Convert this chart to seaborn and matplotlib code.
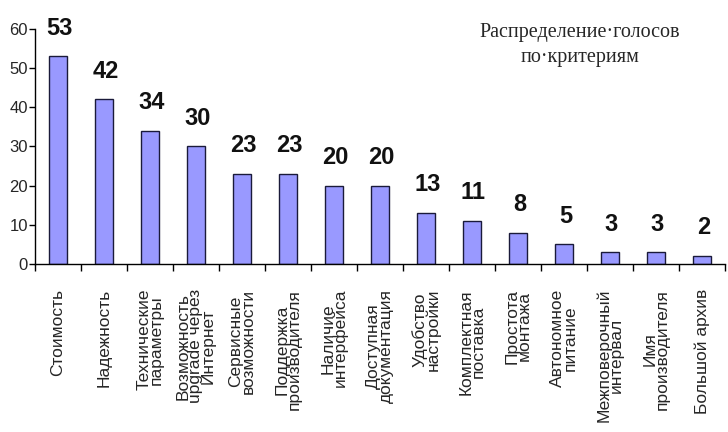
import pandas as pd
import matplotlib.pyplot as plt
import seaborn as sns
from matplotlib.ticker import FixedLocator, NullFormatter

# Data
criteria = [
    "Стоимость", "Надежность", "Технические\nпараметры",
    "Возможность\nupgrade через\nИнтернет", "Сервисные\nвозможности",
    "Поддержка\nпроизводителя", "Наличие\nинтерфейса",
    "Доступная\nдокументация", "Удобство\nнастройки",
    "Комплектная\nпоставка", "Простота\nмонтажа", "Автономное\nпитание",
    "Межповерочный\nинтервал", "Имя\nпроизводителя", "Большой архив",
]
votes = [53, 42, 34, 30, 23, 23, 20, 20, 13, 11, 8, 5, 3, 3, 2]
title_text = "Распределение·голосов\nпо·критериям"

df = pd.DataFrame({"criterion": criteria, "votes": votes})

sns.set_style("white")
plt.rcParams['font.family'] = ['Liberation Sans Narrow', 'Liberation Sans', 'DejaVu Sans']

fig = plt.figure(figsize=(7.28, 4.32), dpi=100)
ax = fig.add_axes([0.048, 0.389, 0.948, 0.544])

sns.barplot(data=df, x="criterion", y="votes", color="#9999ff",
            edgecolor="#1a1a3a", linewidth=1, width=0.4, saturation=1, ax=ax)

# value labels above bars
for i, v in enumerate(votes):
    ax.annotate(str(v), (i, v), xytext=(1, 12), textcoords="offset points",
                ha="center", va="bottom", fontsize=17, fontweight="bold",
                color="#111111")

ax.set_xlim(-0.5, len(criteria) - 0.5)
ax.set_ylim(0, 60)
ax.set_yticks(range(0, 61, 10))
ax.set_xlabel("")
ax.set_ylabel("")

# category labels without tick marks, ticks at category boundaries
ax.tick_params(axis="x", which="major", length=0, pad=18)
ax.set_xticks(range(len(criteria)))
ax.set_xticklabels(criteria, rotation=90, ha="center", va="top",
                   multialignment="center", fontsize=12.5, linespacing=0.78,
                   family=['Liberation Sans', 'DejaVu Sans'])
ax.xaxis.set_minor_locator(FixedLocator([i - 0.5 for i in range(len(criteria) + 1)]))
ax.xaxis.set_minor_formatter(NullFormatter())
ax.tick_params(axis="x", which="minor", length=5, width=1, color="black", direction="out", bottom=True)
ax.tick_params(axis="y", length=4, width=1, color="black", direction="out", left=True,
               labelsize=12, pad=1)

sns.despine(ax=ax)
for s in ["left", "bottom"]:
    ax.spines[s].set_color("black")
    ax.spines[s].set_linewidth(1)

fig.text(0.797, 0.896, title_text, ha="center", va="center", fontsize=14.5,
         family=['Liberation Serif', 'DejaVu Serif'], linespacing=1.4)

plt.savefig("out.png", dpi=100)
plt.close()
